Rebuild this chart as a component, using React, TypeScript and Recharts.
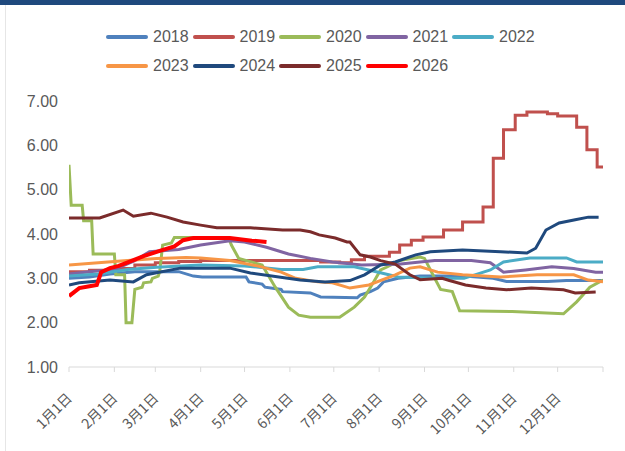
import React from "react";
import { LineChart, Line, XAxis, YAxis, Legend } from "recharts";

// x = day of year (0 = 1月1日), y = price
const S2018: [number, number][] = [[0, 3.0], [14, 3.03], [28, 3.1], [45, 3.15], [75, 3.15], [85, 3.05], [91, 3.03], [121, 3.03], [123, 2.92], [132, 2.87], [134, 2.8], [145, 2.75], [146, 2.7], [165, 2.67], [172, 2.58], [197, 2.56], [199, 2.62], [206, 2.7], [211, 2.78], [215, 2.92], [225, 3.0], [240, 3.05], [270, 3.05], [290, 3.0], [299, 2.93], [327, 2.93], [340, 2.95], [365, 2.95]];
const S2019: [number, number][] = [[0, 3.15], [14, 3.18], [31, 3.22], [45, 3.3], [59, 3.35], [75, 3.38], [90, 3.4], [160, 3.4], [172, 3.37], [185, 3.35], [193, 3.42], [202, 3.5], [219, 3.59], [226, 3.75], [234, 3.86], [242, 3.93], [256, 4.09], [269, 4.27], [283, 4.61], [290, 5.71], [297, 6.35], [305, 6.68], [313, 6.75], [327, 6.71], [334, 6.66], [347, 6.41], [354, 5.9], [361, 5.51], [365, 5.51]];
const S2020: [number, number][] = [[0, 5.56], [1.5, 4.65], [9, 4.65], [10, 4.3], [15.5, 4.3], [16.5, 3.55], [31, 3.55], [32, 3.08], [38, 3.08], [39, 2.0], [43, 2.0], [45, 2.75], [50, 2.8], [51, 2.9], [56, 2.92], [57, 3.0], [61, 3.05], [62, 3.15], [64, 3.75], [70, 3.8], [72, 3.92], [109, 3.92], [111, 3.75], [116, 3.45], [132, 3.3], [141, 2.8], [150, 2.35], [157, 2.17], [165, 2.12], [185, 2.12], [195, 2.35], [202, 2.58], [207, 2.85], [213, 3.19], [217, 3.25], [226, 3.4], [240, 3.48], [243, 3.45], [250, 3.0], [254, 2.75], [262, 2.7], [267, 2.27], [303, 2.25], [338, 2.2], [347, 2.47], [356, 2.8], [365, 2.96]];
const S2021: [number, number][] = [[0, 3.1], [14, 3.15], [31, 3.2], [45, 3.4], [55, 3.6], [75, 3.65], [90, 3.75], [110, 3.85], [120, 3.82], [135, 3.7], [150, 3.55], [165, 3.45], [180, 3.37], [200, 3.3], [225, 3.32], [250, 3.4], [275, 3.4], [288, 3.35], [297, 3.14], [312, 3.19], [330, 3.26], [345, 3.22], [360, 3.14], [365, 3.14]];
const S2022: [number, number][] = [[0, 3.05], [20, 3.1], [40, 3.2], [60, 3.25], [90, 3.3], [120, 3.28], [145, 3.2], [160, 3.2], [170, 3.26], [195, 3.26], [210, 3.15], [225, 3.03], [250, 3.0], [270, 3.0], [288, 3.19], [297, 3.37], [315, 3.46], [340, 3.46], [347, 3.37], [365, 3.37]];
const S2023: [number, number][] = [[0, 3.3], [20, 3.35], [40, 3.4], [60, 3.45], [80, 3.47], [90, 3.46], [110, 3.4], [130, 3.27], [145, 3.14], [155, 3.0], [170, 2.92], [180, 2.9], [192, 2.78], [205, 2.85], [223, 3.08], [233, 3.23], [240, 3.26], [252, 3.14], [269, 3.08], [295, 3.03], [320, 3.08], [345, 3.08], [355, 2.96], [365, 2.92]];
const S2024: [number, number][] = [[0, 2.85], [7, 2.9], [28, 2.96], [44, 2.92], [53, 3.08], [76, 3.23], [110, 3.23], [124, 3.12], [158, 2.96], [175, 2.92], [192, 2.95], [202, 3.08], [213, 3.3], [223, 3.37], [237, 3.53], [247, 3.6], [269, 3.64], [295, 3.6], [313, 3.57], [319, 3.68], [326, 4.09], [335, 4.25], [346, 4.32], [355, 4.38], [362, 4.38]];
const S2025: [number, number][] = [[0, 4.36], [21, 4.36], [37, 4.54], [44, 4.4], [56, 4.47], [67, 4.38], [78, 4.27], [90, 4.2], [101, 4.14], [124, 4.14], [146, 4.09], [158, 4.09], [165, 4.05], [171, 3.98], [182, 3.91], [190, 3.82], [192, 3.82], [199, 3.53], [206, 3.48], [213, 3.4], [223, 3.32], [233, 3.08], [240, 2.97], [255, 3.0], [260, 2.95], [271, 2.85], [285, 2.78], [299, 2.74], [316, 2.78], [338, 2.74], [346, 2.67], [360, 2.69]];
const S2026: [number, number][] = [[0, 2.6], [7, 2.78], [14, 2.82], [19, 2.85], [22, 3.14], [28, 3.23], [34, 3.28], [41, 3.37], [51, 3.5], [62, 3.62], [72, 3.72], [78, 3.86], [85, 3.91], [110, 3.91], [125, 3.85], [135, 3.82]];

const MONTH_DAYS = [0, 31, 59, 90, 120, 151, 181, 212, 243, 273, 304, 334, 365];
const MONTH_LABELS = ["1月1日", "2月1日", "3月1日", "4月1日", "5月1日", "6月1日", "7月1日", "8月1日", "9月1日", "10月1日", "11月1日", "12月1日", ""];
const Y_TICKS = [1, 2, 3, 4, 5, 6, 7];

const SERIES = [
  { name: "2018", color: "#4F81BD", pts: S2018, type: "linear" },
  { name: "2019", color: "#C0504D", pts: S2019, type: "stepAfter" },
  { name: "2020", color: "#9BBB59", pts: S2020, type: "linear" },
  { name: "2021", color: "#8064A2", pts: S2021, type: "linear" },
  { name: "2022", color: "#4BACC6", pts: S2022, type: "linear" },
  { name: "2023", color: "#F79646", pts: S2023, type: "linear" },
  { name: "2024", color: "#1F497D", pts: S2024, type: "linear" },
  { name: "2025", color: "#7B2B2B", pts: S2025, type: "linear" },
  { name: "2026", color: "#FF0000", pts: S2026, type: "linear" },
];

const FONT = '"Liberation Sans", Arial, sans-serif';
const TEXT = "#595959";

function MonthTick(props: any) {
  const { x, y, payload } = props;
  const i = MONTH_DAYS.indexOf(payload.value);
  const label = MONTH_LABELS[i] ?? "";
  if (!label) return null;
  return (
    <g transform={`translate(${x + 4},${y + 25})`}>
      <text
        x={0}
        y={0}
        textAnchor="end"
        transform="rotate(-45)"
        fill={TEXT}
        fontSize={14}
        fontFamily='"Noto Sans CJK SC", sans-serif'
      >
        {label}
      </text>
    </g>
  );
}

function TwoRowLegend() {
  return (
    <div style={{ position: "relative", width: 625, height: 60 }}>
      {SERIES.map((s, i) => {
        const row = i < 5 ? 0 : 1;
        const col = i < 5 ? i : i - 5;
        const left = 106 + col * 86.5;
        const top = row * 29;
        return (
          <div key={s.name} style={{ position: "absolute", left, top, height: 26 }}>
            <div
              style={{
                position: "absolute",
                left: 0,
                top: 12,
                width: 42,
                height: 4,
                borderRadius: 2,
                background: s.color,
              }}
            />
            <div
              style={{
                position: "absolute",
                left: 47,
                top: 5,
                fontFamily: FONT,
                fontSize: 16,
                lineHeight: "18px",
                color: TEXT,
                whiteSpace: "nowrap",
              }}
            >
              {s.name}
            </div>
          </div>
        );
      })}
    </div>
  );
}

export default function App() {
  return (
    <div
      style={{
        position: "absolute",
        left: 0,
        top: 0,
        width: 625,
        height: 451,
        background: "#fff",
        overflow: "hidden",
      }}
    >
      <div style={{ position: "absolute", left: 0, top: 0, width: 625, height: 5, background: "#1F497D" }} />
      <div style={{ position: "absolute", left: 5, top: 5, width: 1, height: 446, background: "#E6E6E6" }} />
      <LineChart
        width={625}
        height={451}
        margin={{ top: 101, right: 22, bottom: 0, left: 0 }}
      >
        <XAxis
          dataKey="d"
          type="number"
          domain={[0, 365]}
          ticks={MONTH_DAYS}
          interval={0}
          allowDataOverflow
          axisLine={{ stroke: "#D9D9D9" }}
          tickLine={{ stroke: "#D9D9D9" }}
          tickSize={5}
          tick={<MonthTick />}
          height={84}
        />
        <YAxis
          domain={[1, 7]}
          ticks={Y_TICKS}
          interval={0}
          width={69}
          axisLine={false}
          tickLine={false}
          tickSize={0}
          tickMargin={11}
          tickFormatter={(v: number) => v.toFixed(2)}
          tick={{ fill: TEXT, fontSize: 16, fontFamily: FONT }}
        />
        <Legend
          layout="horizontal"
          verticalAlign="middle"
          align="center"
          wrapperStyle={{ top: 23, left: 0, width: 625 }}
          content={<TwoRowLegend />}
        />
        {SERIES.map((s) => (
          <Line
            key={s.name}
            name={s.name}
            data={s.pts.map(([d, v]) => ({ d, v }))}
            dataKey="v"
            type={s.type as any}
            stroke={s.color}
            strokeWidth={s.name === "2026" ? 4 : 3}
            dot={false}
            activeDot={false}
            isAnimationActive={false}
          />
        ))}
      </LineChart>
    </div>
  );
}
